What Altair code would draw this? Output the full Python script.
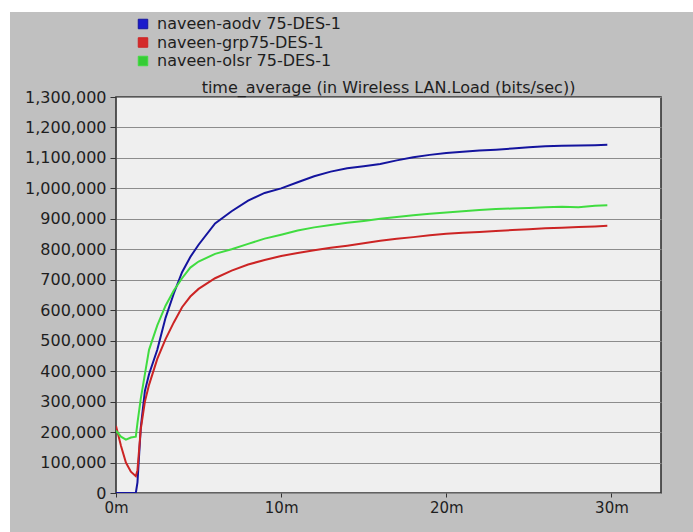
import altair as alt
import pandas as pd

# time in minutes
times = [0, 0.3, 0.6, 0.9, 1.2, 1.3, 1.5, 1.75, 2, 2.5, 3, 3.5, 4, 4.5, 5, 6, 7, 8, 9, 10,
         11, 12, 13, 14, 15, 16, 17, 18, 19, 20, 21, 22, 23, 24, 25, 26, 27, 28, 29, 29.75]

aodv = [0, 0, 0, 0, 0, 35000, 215000, 335000, 390000, 470000, 575000, 655000, 725000, 775000,
        815000, 885000, 925000, 960000, 985000, 1000000, 1020000, 1040000, 1055000, 1066000,
        1073000, 1080000, 1092000, 1102000, 1110000, 1116000, 1120000, 1124000, 1127000,
        1131000, 1135000, 1138000, 1140000, 1141000, 1142000, 1143000]

grp = [220000, 155000, 100000, 70000, 55000, 75000, 210000, 300000, 355000, 440000, 505000,
       560000, 610000, 645000, 670000, 705000, 730000, 750000, 765000, 778000, 788000, 797000,
       805000, 812000, 820000, 828000, 835000, 840000, 846000, 851000, 854000, 857000, 860000,
       863000, 866000, 869000, 871000, 873000, 875000, 877000]

olsr = [205000, 185000, 175000, 182000, 185000, 230000, 310000, 390000, 470000, 550000, 615000,
        665000, 705000, 740000, 760000, 785000, 800000, 818000, 835000, 848000, 862000, 872000,
        880000, 887000, 893000, 900000, 906000, 912000, 917000, 921000, 925000, 929000, 932000,
        934000, 936000, 938000, 940000, 938000, 943000, 945000]

series_names = ["naveen-aodv 75-DES-1", "naveen-grp75-DES-1", "naveen-olsr 75-DES-1"]
line_colors = ["#14149e", "#cc2424", "#40dc40"]
legend_colors = ["#1a1acc", "#d42a2a", "#36cc36"]
y_ticks = list(range(0, 1300001, 100000))
x_ticks = [0, 10, 20, 30]
title_text = "time_average (in Wireless LAN.Load (bits/sec))"

rows = []
for name, vals in zip(series_names, [aodv, grp, olsr]):
    for t, v in zip(times, vals):
        rows.append({"t": t, "v": v, "series": name})
df = pd.DataFrame(rows)

FONT = "DejaVu Sans"
TXT = "#1e1e1e"

x_enc = alt.X("t:Q", scale=alt.Scale(domain=[0, 33], nice=False),
              axis=alt.Axis(values=x_ticks, labelExpr="datum.value + 'm'", grid=False,
                            domain=False, tickSize=4, tickColor="#333", labelPadding=3,
                            labelFlush=False, labelFont=FONT, labelFontSize=15,
                            labelColor=TXT, title=None))
y_enc = alt.Y("v:Q", scale=alt.Scale(domain=[0, 1300000], nice=False),
              axis=alt.Axis(values=y_ticks, format=",d", grid=True, gridColor="#8c8c8c",
                            gridWidth=1, domain=False, tickSize=6, tickColor="#333",
                            labelPadding=4, labelFont=FONT, labelFontSize=16,
                            labelFlush=False, labelColor=TXT, title=None))

lines = alt.Chart(df).mark_line(strokeWidth=2, clip=True).encode(
    x=x_enc, y=y_enc,
    color=alt.Color("series:N", scale=alt.Scale(domain=series_names, range=line_colors),
                    legend=None),
    order=alt.Order("t:Q"),
)

legend_pts = alt.Chart(df).mark_square(opacity=0, size=1).encode(
    x=x_enc, y=y_enc,
    fill=alt.Fill("series:N", scale=alt.Scale(domain=series_names, range=legend_colors),
                  legend=alt.Legend(title=None, orient="none", legendX=19, legendY=-81,
                                    symbolType="square", symbolSize=90, symbolOpacity=1,
                                    symbolStrokeColor="#333", symbolStrokeWidth=1,
                                    labelFont=FONT, labelFontSize=16, labelColor=TXT,
                                    labelLimit=400, rowPadding=2.5, labelOffset=6)),
)

title_df = pd.DataFrame([{"label": title_text}])
title_mark = alt.Chart(title_df).mark_text(
    font=FONT, fontSize=16, color=TXT, align="center", baseline="alphabetic"
).encode(x=alt.value(272.5), y=alt.value(-4.5), text="label:N")

deco = pd.DataFrame([{"k": 0}])
left_strip = alt.Chart(deco).mark_rect(color="white").encode(
    x=alt.value(-116), x2=alt.value(-106), y=alt.value(-97), y2=alt.value(435))
top_strip = alt.Chart(deco).mark_rect(color="white").encode(
    x=alt.value(-116), x2=alt.value(577), y=alt.value(-97), y2=alt.value(-85))

chart = alt.layer(left_strip, top_strip, legend_pts, lines, title_mark).properties(
    width=545, height=396,
    autosize=alt.AutoSizeParams(type="none"),
    padding={"left": 116, "top": 97, "right": 32, "bottom": 39},
    background="#c0c0c0",
).configure_view(
    fill="#efefef", stroke="#333", strokeWidth=1.6
)

chart.save("out.html", embed_options={"renderer": "svg", "actions": False})
